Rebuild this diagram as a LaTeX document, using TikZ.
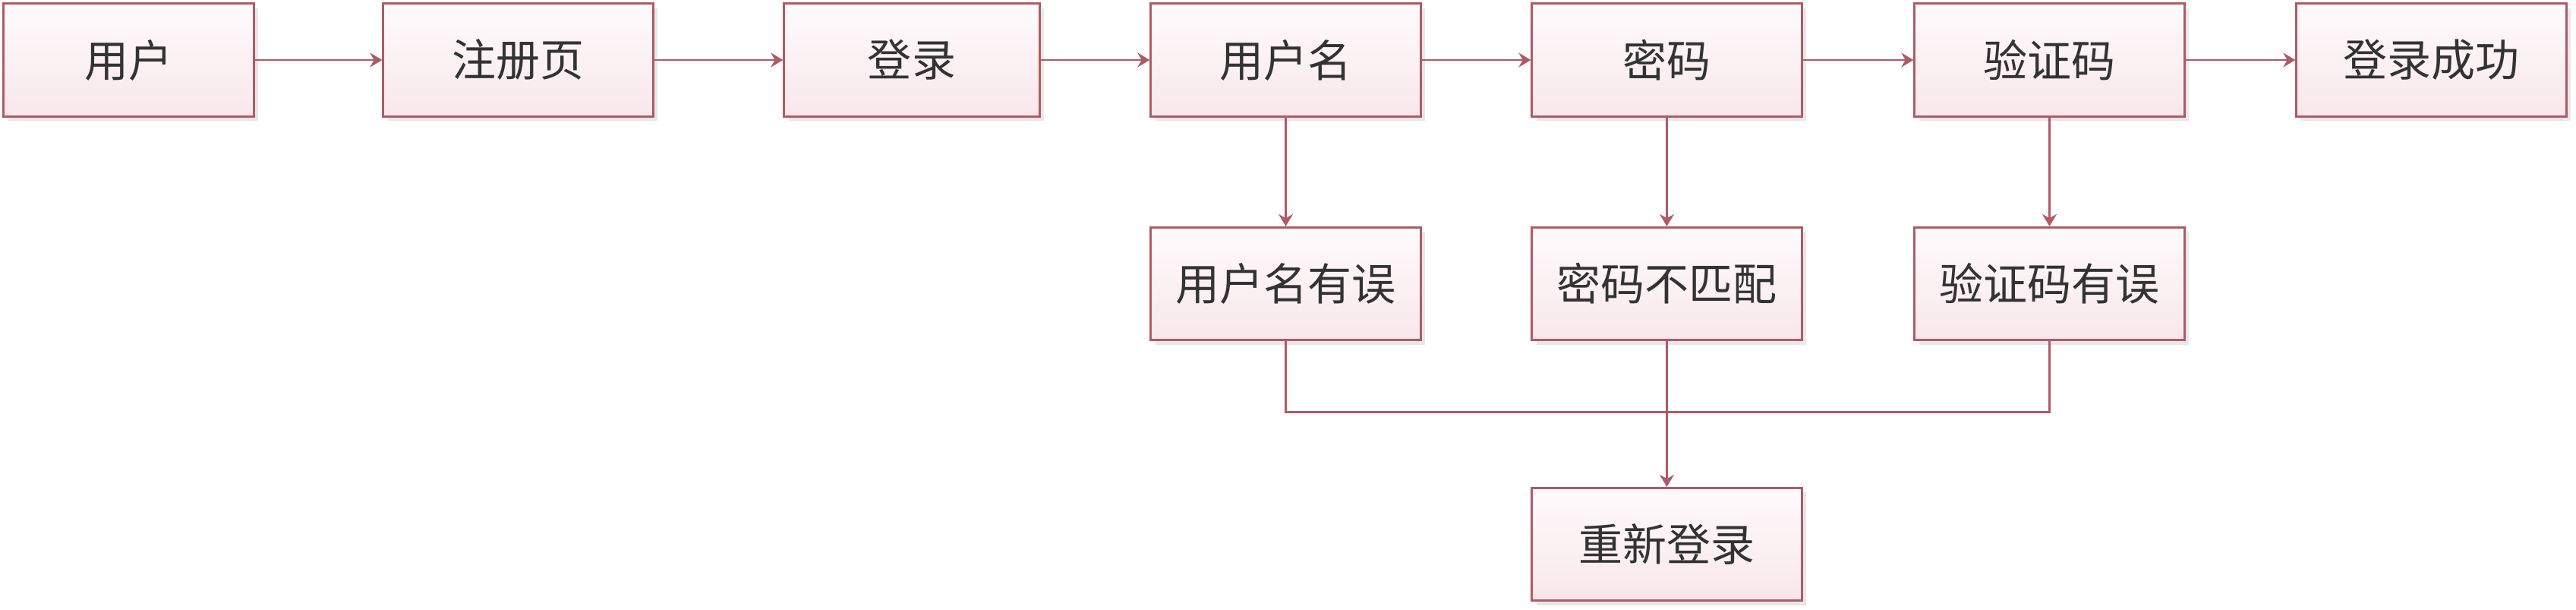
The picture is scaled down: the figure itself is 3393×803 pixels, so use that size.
\documentclass[tikz,border=0pt]{standalone}
\usepackage{fontspec}
\newfontfamily\cjk{Noto Sans CJK SC}
\usetikzlibrary{arrows.meta,shadows}
\definecolor{boxline}{RGB}{176,90,102}
\definecolor{boxtop}{RGB}{254,251,252}
\definecolor{boxbot}{RGB}{248,231,235}
\tikzset{
  box/.style={draw=boxline,line width=0.85pt,top color=boxtop,bottom color=boxbot,
    minimum width=3.55cm,minimum height=1.48cm,inner sep=0pt,
    font=\cjk\fontsize{16.5}{20}\selectfont,text=black!80,
    drop shadow={shadow xshift=0.06cm,shadow yshift=-0.06cm,fill=black!9,opacity=1}},
  link/.style={draw=boxline,line width=0.85pt,-{Stealth[length=0.16cm,width=0.19cm]}},
  wire/.style={draw=boxline,line width=0.85pt}
}

\begin{document}
\begin{tikzpicture}[x=0.01cm,y=-0.01cm]
      \useasboundingbox (0,0) rectangle (3393,803);
      \node[box,minimum width=3.29cm] (user) at (169.5,79) {用户};
      \node[box] (reg) at (682.5,79) {注册页};
      \node[box,minimum width=3.36cm] (login) at (1201,79) {登录};
      \node[box] (name) at (1693.5,79) {用户名};
      \node[box] (pwd) at (2195.5,79) {密码};
      \node[box] (code) at (2699.5,79) {验证码};
      \node[box] (ok) at (3202.5,79) {登录成功};
      \node[box] (nameerr) at (1693.5,373.5) {用户名有误};
      \node[box] (pwderr) at (2195.5,373.5) {密码不匹配};
      \node[box] (codeerr) at (2699.5,373.5) {验证码有误};
      \node[box] (retry) at (2195.5,716.5) {重新登录};
      \coordinate (bus) at (2195.5,542);
      \draw[link] (user) -- (reg);
      \draw[link] (reg) -- (login);
      \draw[link] (login) -- (name);
      \draw[link] (name) -- (pwd);
      \draw[link] (pwd) -- (code);
      \draw[link] (code) -- (ok);
      \draw[link] (name) -- (nameerr);
      \draw[link] (pwd) -- (pwderr);
      \draw[link] (code) -- (codeerr);
      \draw[wire] (nameerr.south) |- (bus) -| (codeerr.south);
      \draw[link] (pwderr) -- (retry);
\end{tikzpicture}
\end{document}
